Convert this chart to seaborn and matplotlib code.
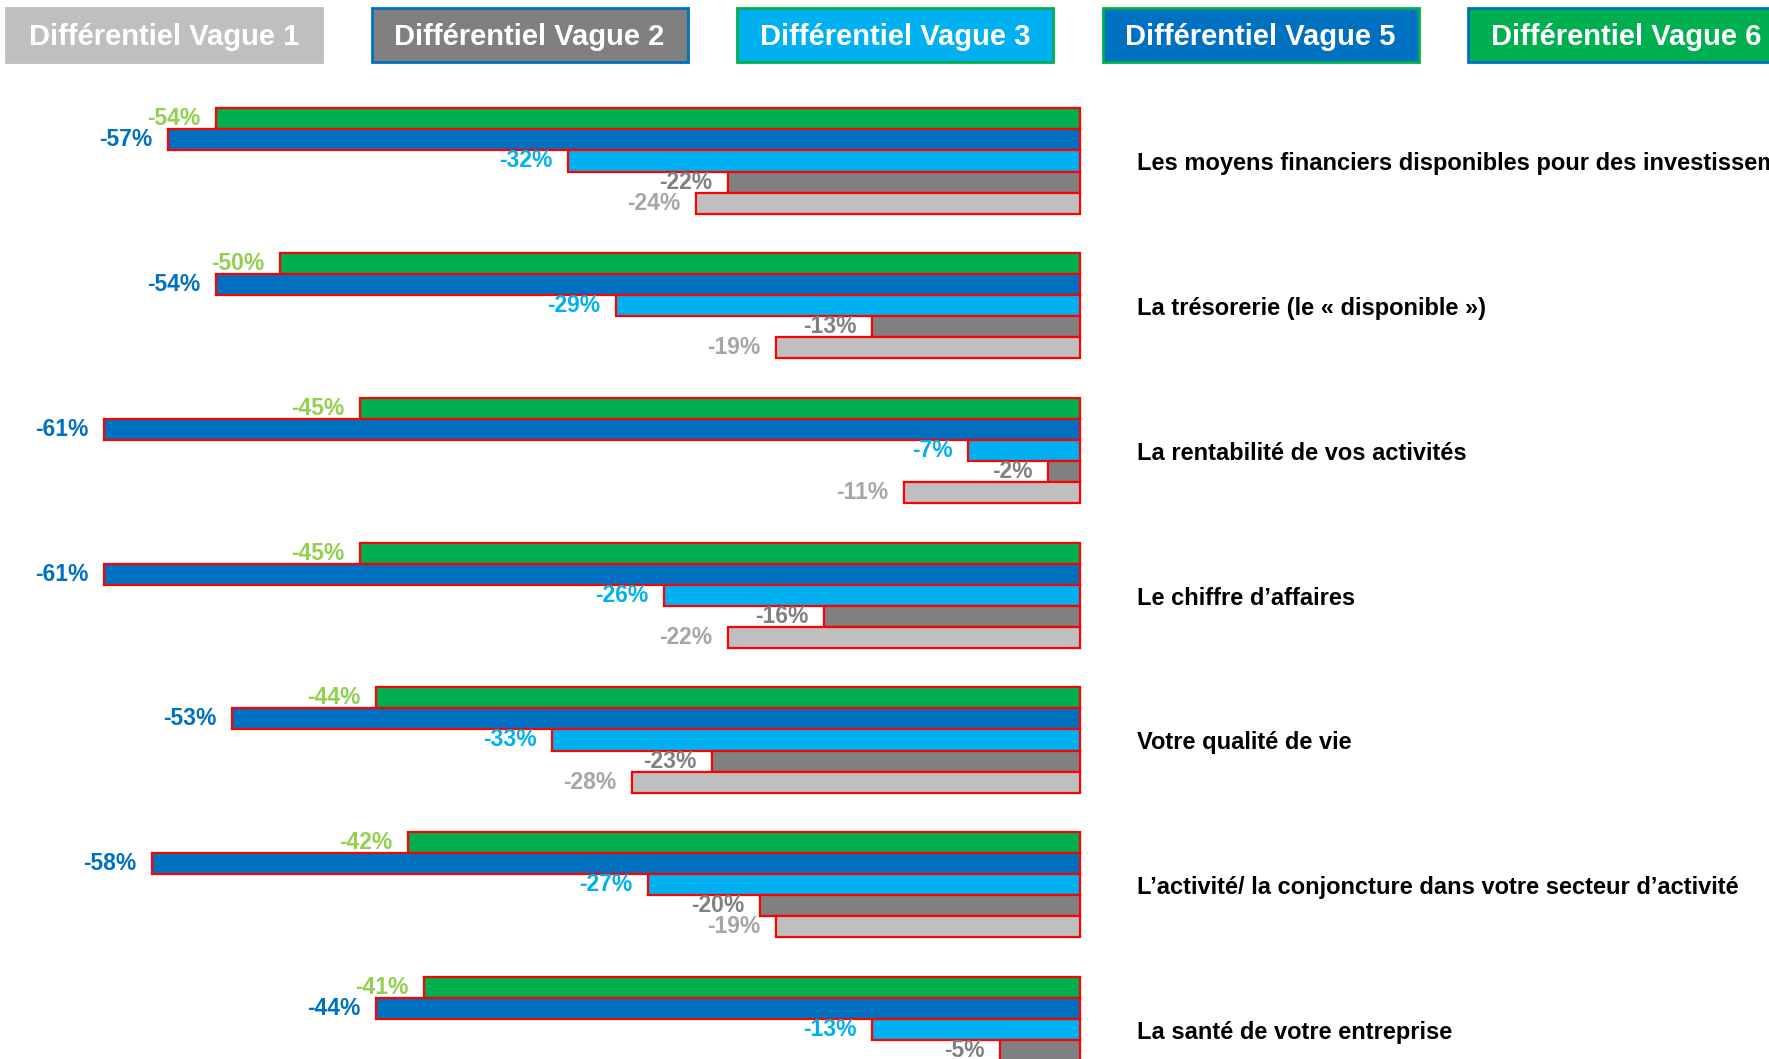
import pandas as pd
import matplotlib
matplotlib.use("Agg")
import matplotlib.pyplot as plt
from matplotlib.patches import Rectangle
import seaborn as sns

# -------------------------------
# data
categories = [
    "Les moyens financiers disponibles pour des investissements",
    "La trésorerie (le « disponible »)",
    "La rentabilité de vos activités",
    "Le chiffre d’affaires",
    "Votre qualité de vie",
    "L’activité/ la conjoncture dans votre secteur d’activité",
    "La santé de votre entreprise",
]
vague6 = [-54, -50, -45, -45, -44, -42, -41]
vague5 = [-57, -54, -61, -61, -53, -58, -44]
vague3 = [-32, -29, -7, -26, -33, -27, -13]
vague2 = [-22, -13, -2, -16, -23, -20, -5]
vague1 = [-24, -19, -11, -22, -28, -19, -9]  # last value hidden below the frame

legend_names = ["Différentiel Vague 1", "Différentiel Vague 2", "Différentiel Vague 3",
                "Différentiel Vague 5", "Différentiel Vague 6"]
legend_values = [vague1, vague2, vague3, vague5, vague6]

# -------------------------------
# styles
bar_colors = {
    "Différentiel Vague 1": "#BFBFBF",
    "Différentiel Vague 2": "#808080",
    "Différentiel Vague 3": "#00B0F0",
    "Différentiel Vague 5": "#0070C0",
    "Différentiel Vague 6": "#00B050",
}
label_colors = {
    "Différentiel Vague 1": "#A6A6A6",
    "Différentiel Vague 2": "#808080",
    "Différentiel Vague 3": "#00B0F0",
    "Différentiel Vague 5": "#0070C0",
    "Différentiel Vague 6": "#92D050",
}
box_borders = {
    "Différentiel Vague 1": "#BFBFBF",
    "Différentiel Vague 2": "#0070C0",
    "Différentiel Vague 3": "#00B050",
    "Différentiel Vague 5": "#00B050",
    "Différentiel Vague 6": "#0070C0",
}
plot_order = ["Différentiel Vague 6", "Différentiel Vague 5", "Différentiel Vague 3",
              "Différentiel Vague 2", "Différentiel Vague 1"]

sns.set_style("white")
plt.rcParams["font.family"] = ["Liberation Sans Narrow", "Liberation Sans", "DejaVu Sans"]

rows = []
for name, vals in zip(legend_names, legend_values):
    for cat, v in zip(categories, vals):
        rows.append({"cat": cat, "serie": name, "val": v})
df = pd.DataFrame(rows)

W, H = 1769, 1059
fig = plt.figure(figsize=(W / 100, H / 100), dpi=100)
ax = fig.add_axes([0, 0, 1, 1])

sns.barplot(data=df, y="cat", x="val", hue="serie", hue_order=plot_order,
            order=categories, palette=bar_colors, orient="h", width=0.727,
            saturation=1, edgecolor="#FF0000", linewidth=1.6, legend=False, ax=ax)

# 0 at x=1080px, 16px per point
ax.set_xlim(-1080 / 16, (W - 1080) / 16)
ax.set_ylim(6 + (H - 1029.5) / 144.75, -161 / 144.75)
ax.axis("off")

# value labels
for name, cont in zip(plot_order, ax.containers):
    for bar in cont:
        v = bar.get_width()
        ax.annotate(f"{v:.0f}%", xy=(v, bar.get_y() + bar.get_height() / 2),
                    xytext=(-11, 0), textcoords="offset points",
                    ha="right", va="center", fontsize=16.5, fontweight="bold",
                    color=label_colors[name])

# category labels
for i, cat in enumerate(categories):
    ax.text(57 / 16, i + 0.02, cat, ha="left", va="center", fontsize=17,
            fontweight="bold", color="black")

# legend boxes along the top
for i, name in enumerate(legend_names):
    x0 = 6 + 365.5 * i
    rect = Rectangle((x0 / W, 1 - 62 / H), 316 / W, 54 / H, transform=fig.transFigure,
                     facecolor=bar_colors[name], edgecolor=box_borders[name], linewidth=2)
    fig.add_artist(rect)
    fig.text((x0 + 158) / W, 1 - 37 / H, name, ha="center", va="center",
             fontsize=21, fontweight="bold", color="white")

fig.savefig("out.png", dpi=100)
